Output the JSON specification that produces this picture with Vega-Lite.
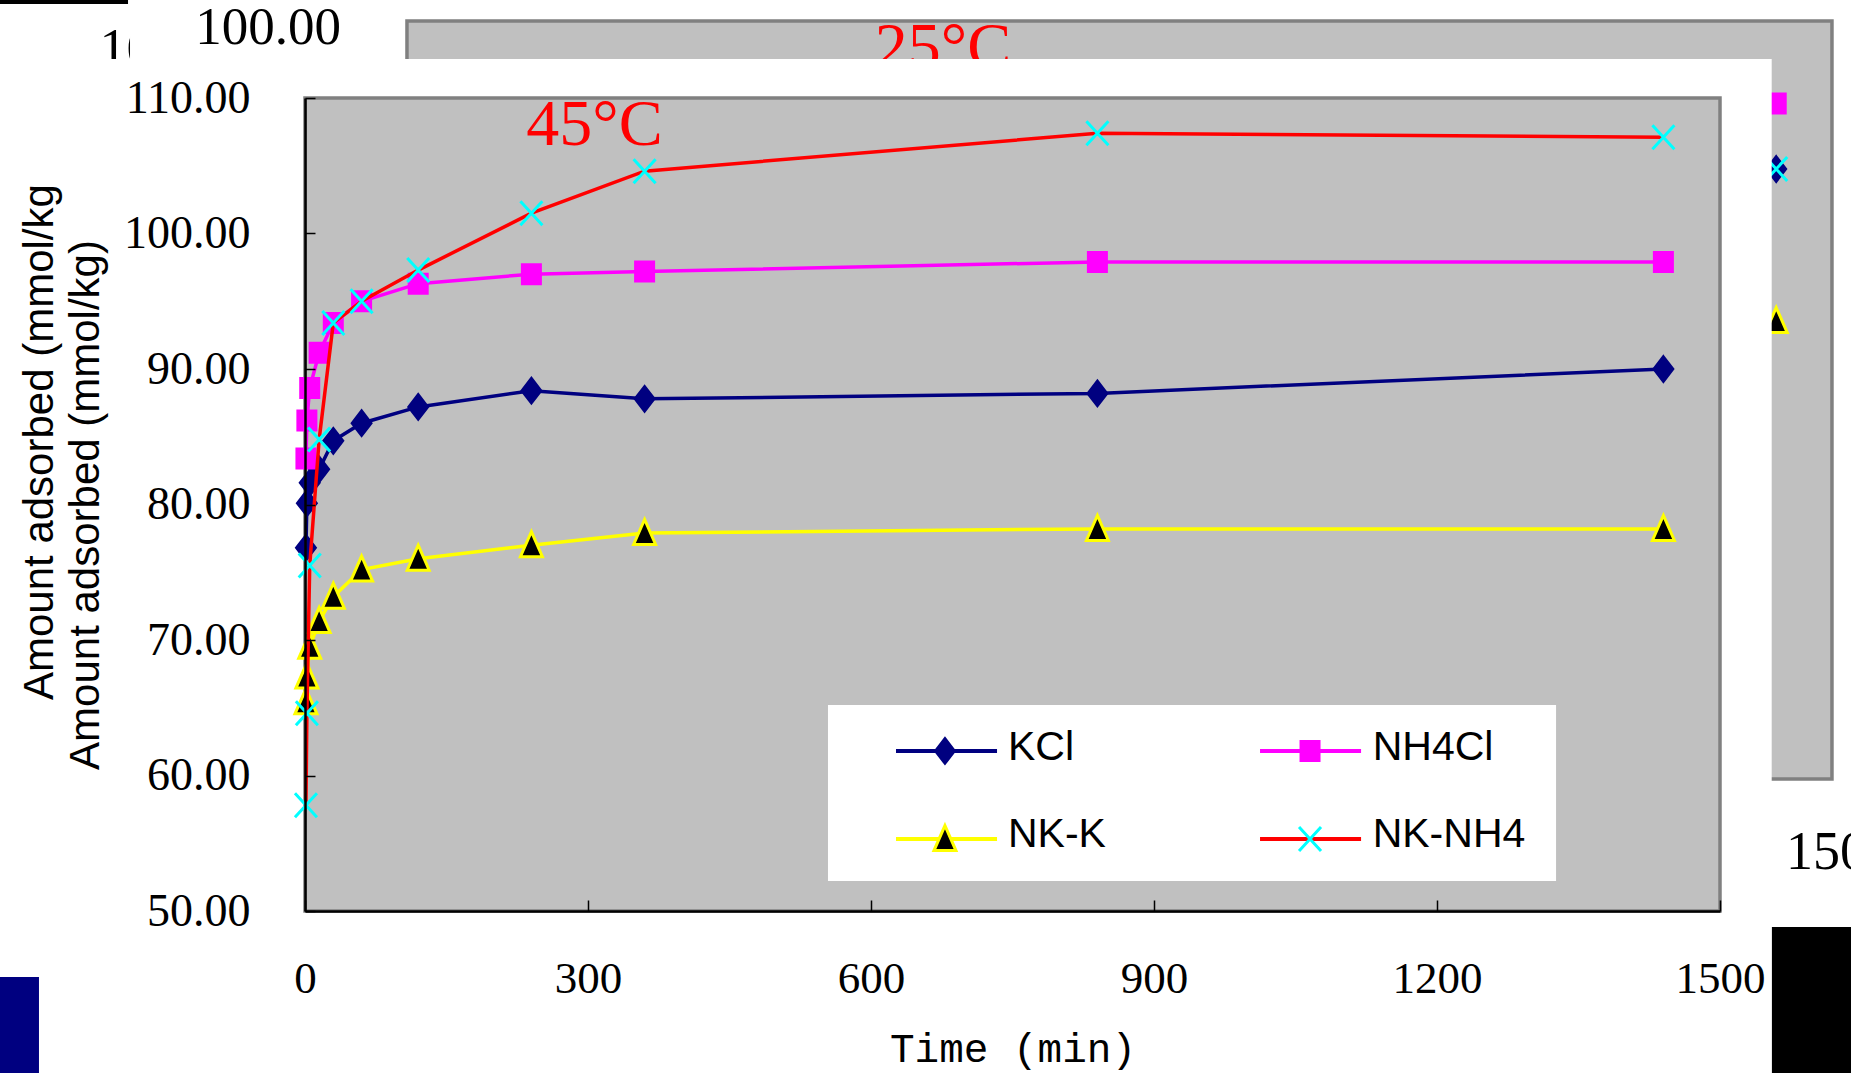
{
  "$schema": "https://vega.github.io/schema/vega-lite/v6.json",
  "width": 1415,
  "height": 813,
  "autosize": "none",
  "padding": {"left": 305, "top": 98, "right": 131, "bottom": 162},
  "background": "white",
  "config": {"view": {"stroke": null}},
  "datasets": {
    "kinetics": [
      {"series": "KCl", "time": 1, "amount": 76.8},
      {"series": "KCl", "time": 2, "amount": 80.1},
      {"series": "KCl", "time": 5, "amount": 81.6},
      {"series": "KCl", "time": 15, "amount": 82.6},
      {"series": "KCl", "time": 30, "amount": 84.7},
      {"series": "KCl", "time": 60, "amount": 86.0},
      {"series": "KCl", "time": 120, "amount": 87.2},
      {"series": "KCl", "time": 240, "amount": 88.4},
      {"series": "KCl", "time": 360, "amount": 87.8},
      {"series": "KCl", "time": 840, "amount": 88.2},
      {"series": "KCl", "time": 1440, "amount": 90.0},
      {"series": "NH4Cl", "time": 1, "amount": 83.4},
      {"series": "NH4Cl", "time": 2, "amount": 86.2},
      {"series": "NH4Cl", "time": 5, "amount": 88.6},
      {"series": "NH4Cl", "time": 15, "amount": 91.2},
      {"series": "NH4Cl", "time": 30, "amount": 93.4},
      {"series": "NH4Cl", "time": 60, "amount": 95.0},
      {"series": "NH4Cl", "time": 120, "amount": 96.3},
      {"series": "NH4Cl", "time": 240, "amount": 97.0},
      {"series": "NH4Cl", "time": 360, "amount": 97.2},
      {"series": "NH4Cl", "time": 840, "amount": 97.9},
      {"series": "NH4Cl", "time": 1440, "amount": 97.9},
      {"series": "NK-K", "time": 1, "amount": 65.4},
      {"series": "NK-K", "time": 2, "amount": 67.3},
      {"series": "NK-K", "time": 5, "amount": 69.5},
      {"series": "NK-K", "time": 15, "amount": 71.4},
      {"series": "NK-K", "time": 30, "amount": 73.2},
      {"series": "NK-K", "time": 60, "amount": 75.2},
      {"series": "NK-K", "time": 120, "amount": 76.0},
      {"series": "NK-K", "time": 240, "amount": 77.0},
      {"series": "NK-K", "time": 360, "amount": 77.9},
      {"series": "NK-K", "time": 840, "amount": 78.2},
      {"series": "NK-K", "time": 1440, "amount": 78.2},
      {"series": "NK-NH4", "time": 1, "amount": 57.8},
      {"series": "NK-NH4", "time": 2, "amount": 64.6},
      {"series": "NK-NH4", "time": 5, "amount": 75.5},
      {"series": "NK-NH4", "time": 15, "amount": 84.8},
      {"series": "NK-NH4", "time": 30, "amount": 93.4},
      {"series": "NK-NH4", "time": 60, "amount": 95.0},
      {"series": "NK-NH4", "time": 120, "amount": 97.3},
      {"series": "NK-NH4", "time": 240, "amount": 101.5},
      {"series": "NK-NH4", "time": 360, "amount": 104.6},
      {"series": "NK-NH4", "time": 840, "amount": 107.4},
      {"series": "NK-NH4", "time": 1440, "amount": 107.1}
    ]
  },
  "layer": [
    {
      "data": {"name": "kinetics"},
      "mark": {"type": "rule", "opacity": 0},
      "encoding": {
        "x": {"field": "time", "type": "quantitative", "title": "Time (min)",
          "scale": {"domain": [0, 1500], "nice": false, "zero": false},
          "axis": {"values": [0, 300, 600, 900, 1200, 1500], "format": "d", "grid": false, "zindex": 1,
            "labelFont": "Liberation Serif", "labelFontSize": 45, "labelColor": "black", "labelPadding": 56,
            "labelFlush": false, "labelOverlap": false,
            "tickSize": -11, "tickColor": "black", "tickWidth": 1.5,
            "domainColor": "black", "domainWidth": 2.5,
            "titleFont": "Liberation Mono", "titleFontSize": 41, "titleFontWeight": "normal", "titleColor": "black", "titlePadding": 28}},
        "y": {"field": "amount", "type": "quantitative", "title": "Amount adsorbed (mmol/kg)",
          "scale": {"domain": [50, 110], "nice": false, "zero": false},
          "axis": {"values": [50, 60, 70, 80, 90, 100, 110], "format": ".2f", "grid": false, "zindex": 1,
            "labelFont": "Liberation Serif", "labelFontSize": 46, "labelColor": "black", "labelPadding": 65,
            "labelFlush": false, "labelOverlap": false,
            "tickSize": -10, "tickColor": "black", "tickWidth": 1.5,
            "domainColor": "black", "domainWidth": 2.5,
            "titleFont": "Liberation Sans Narrow, Liberation Sans, sans-serif", "titleFontSize": 42, "titleFontWeight": "normal", "titleColor": "black", "titlePadding": 16}}
      }
    },
    {
      "data": {"values": [{}]},
      "mark": {"type": "rect", "fill": "black"},
      "encoding": {"x": {"datum": -330}, "x2": {"datum": -187.6}, "y": {"datum": 117.3}, "y2": {"datum": 116.94}}
    },
    {
      "data": {"values": [{}]},
      "mark": {"type": "text", "text": "10", "font": "Liberation Serif", "fontSize": 54, "align": "left", "baseline": "alphabetic", "color": "black"},
      "encoding": {"x": {"datum": -217.8}, "y": {"datum": 112.36}}
    },
    {
      "data": {"values": [{}]},
      "mark": {"type": "rect", "fill": "white"},
      "encoding": {"x": {"datum": -185.5}, "x2": {"datum": 1650}, "y": {"datum": 118}, "y2": {"datum": 112.88}}
    },
    {
      "data": {"values": [{}]},
      "mark": {"type": "rect", "fill": "#C0C0C0", "stroke": "#808080", "strokeWidth": 3.5},
      "encoding": {"x": {"datum": 108.1}, "x2": {"datum": 1618.7}, "y": {"datum": 115.68}, "y2": {"datum": 59.74}}
    },
    {
      "data": {"values": [{}]},
      "mark": {"type": "text", "text": "100.00", "font": "Liberation Serif", "fontSize": 53, "align": "right", "baseline": "alphabetic", "color": "black"},
      "encoding": {"x": {"datum": 38.2}, "y": {"datum": 113.98}}
    },
    {
      "data": {"values": [{}]},
      "mark": {"type": "text", "text": "25°C", "font": "Liberation Serif", "fontSize": 66, "align": "center", "baseline": "alphabetic", "color": "#FF0000"},
      "encoding": {"x": {"datum": 676.3}, "y": {"datum": 112.21}}
    },
    {
      "data": {"values": [{}]},
      "mark": {"type": "point", "shape": "M-0.95,-1H0.95V1H-0.95Z", "size": 400, "filled": true, "fill": "#FF00FF", "stroke": "#FF00FF", "strokeWidth": 2, "opacity": 1},
      "encoding": {"x": {"datum": 1559.6}, "y": {"datum": 109.59}}
    },
    {
      "data": {"values": [{}]},
      "mark": {"type": "point", "shape": "M0,-1.3L1,0L0,1.3L-1,0Z", "size": 400, "filled": true, "fill": "#000080", "stroke": "#000080", "strokeWidth": 2, "opacity": 1},
      "encoding": {"x": {"datum": 1559.6}, "y": {"datum": 104.76}}
    },
    {
      "data": {"values": [{}]},
      "mark": {"type": "point", "shape": "M-1.1,-1.2L1.1,1.2M1.1,-1.2L-1.1,1.2", "size": 400, "filled": false, "stroke": "#00FFFF", "strokeWidth": 3, "opacity": 1},
      "encoding": {"x": {"datum": 1559.6}, "y": {"datum": 104.76}}
    },
    {
      "data": {"values": [{}]},
      "mark": {"type": "point", "shape": "M0,-1.35L1.1,1.15L-1.1,1.15Z", "size": 400, "filled": true, "fill": "black", "stroke": "#FFFF00", "strokeWidth": 3, "opacity": 1},
      "encoding": {"x": {"datum": 1559.6}, "y": {"datum": 93.54}}
    },
    {
      "data": {"values": [{}]},
      "mark": {"type": "text", "text": "1500", "font": "Liberation Serif", "fontSize": 54, "align": "left", "baseline": "alphabetic", "color": "black"},
      "encoding": {"x": {"datum": 1570}, "y": {"datum": 53.1}}
    },
    {
      "data": {"values": [{}]},
      "mark": {"type": "rect", "fill": "black"},
      "encoding": {"x": {"datum": 1554.8}, "x2": {"datum": 1650}, "y": {"datum": 48.82}, "y2": {"datum": 37}}
    },
    {
      "data": {"values": [{}]},
      "mark": {"type": "rect", "fill": "white"},
      "encoding": {"x": {"datum": -340}, "x2": {"datum": 1554.8}, "y": {"datum": 112.88}, "y2": {"datum": 37}}
    },
    {
      "data": {"values": [{}]},
      "mark": {"type": "rect", "fill": "#000080"},
      "encoding": {"x": {"datum": -340}, "x2": {"datum": -282}, "y": {"datum": 45.13}, "y2": {"datum": 37}}
    },
    {
      "data": {"values": [{}]},
      "mark": {"type": "text", "text": "Amount adsorbed (mmol/kg", "font": "Liberation Sans Narrow, Liberation Sans, sans-serif", "fontSize": 42, "angle": 270, "align": "left", "baseline": "middle", "color": "black"},
      "encoding": {"x": {"datum": -281}, "y": {"datum": 65.57}}
    },
    {
      "data": {"values": [{}]},
      "mark": {"type": "rect", "fill": "#C0C0C0", "stroke": "#808080", "strokeWidth": 3.5},
      "encoding": {"x": {"datum": 0}, "x2": {"datum": 1500}, "y": {"datum": 110}, "y2": {"datum": 50}}
    },
    {
      "data": {"name": "kinetics"},
      "transform": [{"filter": "datum.series === 'KCl'"}],
      "mark": {"type": "line", "color": "#000080", "strokeWidth": 3.5},
      "encoding": {"x": {"field": "time", "type": "quantitative"}, "y": {"field": "amount", "type": "quantitative"}}
    },
    {
      "data": {"name": "kinetics"},
      "transform": [{"filter": "datum.series === 'KCl'"}],
      "mark": {"type": "point", "shape": "M0,-1.3L1,0L0,1.3L-1,0Z", "size": 400, "filled": true, "fill": "#000080", "stroke": "#000080", "strokeWidth": 2, "opacity": 1},
      "encoding": {"x": {"field": "time", "type": "quantitative"}, "y": {"field": "amount", "type": "quantitative"}}
    },
    {
      "data": {"name": "kinetics"},
      "transform": [{"filter": "datum.series === 'NH4Cl'"}],
      "mark": {"type": "line", "color": "#FF00FF", "strokeWidth": 3.5},
      "encoding": {"x": {"field": "time", "type": "quantitative"}, "y": {"field": "amount", "type": "quantitative"}}
    },
    {
      "data": {"name": "kinetics"},
      "transform": [{"filter": "datum.series === 'NH4Cl'"}],
      "mark": {"type": "point", "shape": "M-0.95,-1H0.95V1H-0.95Z", "size": 400, "filled": true, "fill": "#FF00FF", "stroke": "#FF00FF", "strokeWidth": 2, "opacity": 1},
      "encoding": {"x": {"field": "time", "type": "quantitative"}, "y": {"field": "amount", "type": "quantitative"}}
    },
    {
      "data": {"name": "kinetics"},
      "transform": [{"filter": "datum.series === 'NK-K'"}],
      "mark": {"type": "line", "color": "#FFFF00", "strokeWidth": 3.5},
      "encoding": {"x": {"field": "time", "type": "quantitative"}, "y": {"field": "amount", "type": "quantitative"}}
    },
    {
      "data": {"name": "kinetics"},
      "transform": [{"filter": "datum.series === 'NK-K'"}],
      "mark": {"type": "point", "shape": "M0,-1.35L1.1,1.15L-1.1,1.15Z", "size": 400, "filled": true, "fill": "black", "stroke": "#FFFF00", "strokeWidth": 3, "opacity": 1},
      "encoding": {"x": {"field": "time", "type": "quantitative"}, "y": {"field": "amount", "type": "quantitative"}}
    },
    {
      "data": {"name": "kinetics"},
      "transform": [{"filter": "datum.series === 'NK-NH4'"}],
      "mark": {"type": "line", "color": "#FF0000", "strokeWidth": 3.5},
      "encoding": {"x": {"field": "time", "type": "quantitative"}, "y": {"field": "amount", "type": "quantitative"}}
    },
    {
      "data": {"name": "kinetics"},
      "transform": [{"filter": "datum.series === 'NK-NH4'"}],
      "mark": {"type": "point", "shape": "M-1.1,-1.2L1.1,1.2M1.1,-1.2L-1.1,1.2", "size": 400, "filled": false, "stroke": "#00FFFF", "strokeWidth": 3, "opacity": 1},
      "encoding": {"x": {"field": "time", "type": "quantitative"}, "y": {"field": "amount", "type": "quantitative"}}
    },
    {
      "data": {"values": [{}]},
      "mark": {"type": "text", "text": "45°C", "font": "Liberation Serif", "fontSize": 66, "align": "center", "baseline": "alphabetic", "color": "#FF0000"},
      "encoding": {"x": {"datum": 306.9}, "y": {"datum": 106.53}}
    },
    {
      "data": {"values": [{}]},
      "mark": {"type": "rect", "fill": "white"},
      "encoding": {"x": {"datum": 554.4}, "x2": {"datum": 1326.2}, "y": {"datum": 65.2}, "y2": {"datum": 52.21}}
    },
    {
      "data": {"values": [{}]},
      "mark": {"type": "rule", "color": "#000080", "strokeWidth": 4},
      "encoding": {"x": {"datum": 626.5}, "x2": {"datum": 733.6}, "y": {"datum": 61.81}}
    },
    {
      "data": {"values": [{}]},
      "mark": {"type": "point", "shape": "M0,-1.3L1,0L0,1.3L-1,0Z", "size": 400, "filled": true, "fill": "#000080", "stroke": "#000080", "strokeWidth": 2, "opacity": 1},
      "encoding": {"x": {"datum": 678.4}, "y": {"datum": 61.81}}
    },
    {
      "data": {"values": [{}]},
      "mark": {"type": "text", "text": "KCl", "font": "Liberation Sans Narrow, Liberation Sans, sans-serif", "fontSize": 41, "align": "left", "baseline": "middle", "color": "black"},
      "encoding": {"x": {"datum": 745.2}, "y": {"datum": 62.0}}
    },
    {
      "data": {"values": [{}]},
      "mark": {"type": "rule", "color": "#FF00FF", "strokeWidth": 4},
      "encoding": {"x": {"datum": 1012.4}, "x2": {"datum": 1119.5}, "y": {"datum": 61.81}}
    },
    {
      "data": {"values": [{}]},
      "mark": {"type": "point", "shape": "M-0.95,-1H0.95V1H-0.95Z", "size": 400, "filled": true, "fill": "#FF00FF", "stroke": "#FF00FF", "strokeWidth": 2, "opacity": 1},
      "encoding": {"x": {"datum": 1065.4}, "y": {"datum": 61.81}}
    },
    {
      "data": {"values": [{}]},
      "mark": {"type": "text", "text": "NH4Cl", "font": "Liberation Sans Narrow, Liberation Sans, sans-serif", "fontSize": 41, "align": "left", "baseline": "middle", "color": "black"},
      "encoding": {"x": {"datum": 1131.8}, "y": {"datum": 62.0}}
    },
    {
      "data": {"values": [{}]},
      "mark": {"type": "rule", "color": "#FFFF00", "strokeWidth": 4},
      "encoding": {"x": {"datum": 626.5}, "x2": {"datum": 733.6}, "y": {"datum": 55.31}}
    },
    {
      "data": {"values": [{}]},
      "mark": {"type": "point", "shape": "M0,-1.35L1.1,1.15L-1.1,1.15Z", "size": 400, "filled": true, "fill": "black", "stroke": "#FFFF00", "strokeWidth": 3, "opacity": 1},
      "encoding": {"x": {"datum": 678.4}, "y": {"datum": 55.31}}
    },
    {
      "data": {"values": [{}]},
      "mark": {"type": "text", "text": "NK-K", "font": "Liberation Sans Narrow, Liberation Sans, sans-serif", "fontSize": 41, "align": "left", "baseline": "middle", "color": "black"},
      "encoding": {"x": {"datum": 745.2}, "y": {"datum": 55.6}}
    },
    {
      "data": {"values": [{}]},
      "mark": {"type": "rule", "color": "#FF0000", "strokeWidth": 4},
      "encoding": {"x": {"datum": 1012.4}, "x2": {"datum": 1119.5}, "y": {"datum": 55.31}}
    },
    {
      "data": {"values": [{}]},
      "mark": {"type": "point", "shape": "M-1.1,-1.2L1.1,1.2M1.1,-1.2L-1.1,1.2", "size": 400, "filled": false, "stroke": "#00FFFF", "strokeWidth": 3, "opacity": 1},
      "encoding": {"x": {"datum": 1065.4}, "y": {"datum": 55.31}}
    },
    {
      "data": {"values": [{}]},
      "mark": {"type": "text", "text": "NK-NH4", "font": "Liberation Sans Narrow, Liberation Sans, sans-serif", "fontSize": 41, "align": "left", "baseline": "middle", "color": "black"},
      "encoding": {"x": {"datum": 1131.8}, "y": {"datum": 55.6}}
    }
  ]
}
